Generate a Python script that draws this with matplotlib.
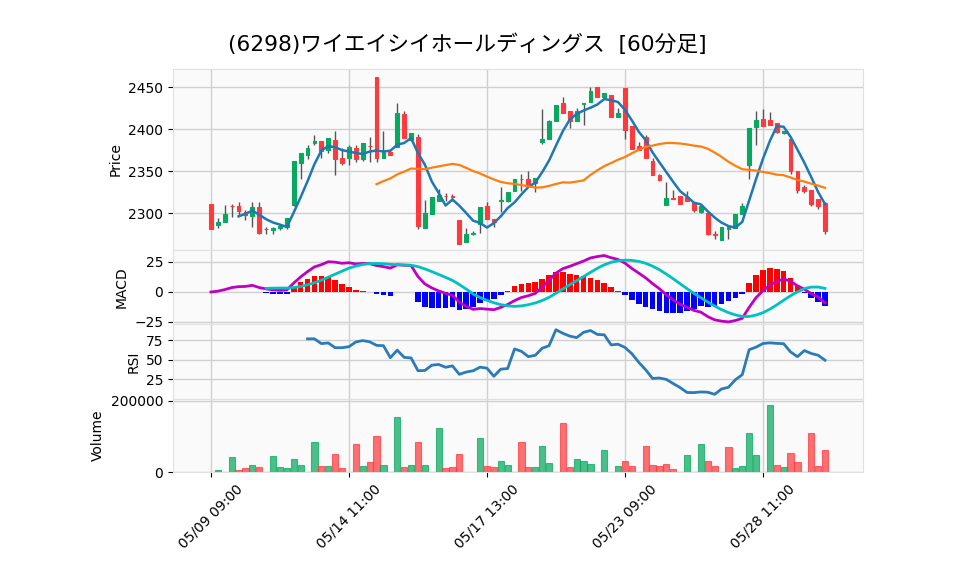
import numpy as np
import pandas as pd
import matplotlib
matplotlib.use("Agg")
import matplotlib.pyplot as plt

plt.rcParams['font.family'] = ['DejaVu Sans', 'Noto Sans CJK JP']
plt.rcParams['axes.unicode_minus'] = True

title = "(6298)ワイエイシイホールディングス  [60分足]"
tick_labels = ["05/09 09:00", "05/14 11:00", "05/17 13:00", "05/23 09:00", "05/28 11:00"]

opens = [2310.7, 2286.1, 2289.7, 2308.6, 2308.7, 2301.2, 2296.0, 2307.5, 2281.3, 2280.2,
         2281.7, 2283.0, 2309.9, 2360.0, 2369.8, 2384.0, 2386.1, 2375.4, 2387.3, 2365.9,
         2366.3, 2377.4, 2365.1, 2380.2, 2462.3, 2366.3, 2373.0, 2379.4, 2418.3, 2387.3,
         2390.9, 2281.7, 2299.2, 2313.9, 2320.8, 2320.1, 2292.1, 2265.1, 2275.0, 2287.3,
         2308.7, 2293.3, 2313.9, 2313.9, 2327.0, 2340.8, 2340.9, 2335.7, 2385.3, 2388.5,
         2410.3, 2431.0, 2421.8, 2410.3, 2429.8, 2432.5, 2450.8, 2438.9, 2440.9, 2415.1,
         2449.6, 2404.0, 2380.2, 2390.9, 2362.7, 2345.2, 2309.5, 2318.6, 2320.6, 2319.8,
         2311.9, 2300.8, 2300.0, 2275.4, 2268.3, 2281.5, 2281.7, 2298.8, 2357.5, 2403.2,
         2412.3, 2411.1, 2407.9, 2395.2, 2388.1, 2350.4, 2331.7, 2327.8, 2317.1, 2311.9]
highs = [2311.0, 2294.0, 2309.9, 2310.7, 2313.5, 2304.0, 2313.5, 2313.5, 2283.3, 2284.0,
         2287.3, 2294.0, 2362.3, 2372.0, 2381.0, 2392.9, 2386.1, 2389.3, 2398.0, 2377.4,
         2381.3, 2381.3, 2383.7, 2391.3, 2462.3, 2397.6, 2375.4, 2431.0, 2421.4, 2395.6,
         2394.4, 2315.9, 2319.5, 2329.0, 2323.8, 2323.0, 2292.1, 2281.7, 2279.0, 2307.1,
         2313.5, 2293.3, 2331.7, 2325.4, 2340.9, 2346.8, 2350.4, 2341.7, 2423.8, 2411.5,
         2429.4, 2438.1, 2421.8, 2425.0, 2431.0, 2450.0, 2450.8, 2442.9, 2440.9, 2425.0,
         2449.6, 2404.0, 2384.9, 2393.3, 2365.9, 2347.2, 2336.9, 2327.8, 2320.6, 2327.0,
         2313.5, 2309.5, 2300.0, 2278.2, 2283.3, 2284.1, 2299.2, 2311.9, 2401.2, 2421.4,
         2423.8, 2420.2, 2407.9, 2398.0, 2388.1, 2350.4, 2333.7, 2327.8, 2317.1, 2312.7]
lows = [2280.5, 2281.7, 2289.0, 2295.2, 2296.0, 2292.0, 2284.0, 2275.0, 2275.4, 2274.6,
        2280.2, 2281.0, 2308.0, 2340.5, 2365.0, 2381.0, 2365.5, 2372.0, 2345.2, 2357.1,
        2357.5, 2361.5, 2362.3, 2361.1, 2361.0, 2366.3, 2369.0, 2379.4, 2390.1, 2386.5,
        2281.0, 2281.7, 2299.2, 2313.9, 2315.0, 2315.0, 2263.1, 2265.1, 2274.0, 2276.0,
        2292.5, 2284.0, 2300.8, 2313.0, 2327.0, 2327.0, 2331.7, 2325.0, 2383.0, 2388.5,
        2410.3, 2419.8, 2401.2, 2410.3, 2405.2, 2432.5, 2438.9, 2438.9, 2415.1, 2414.3,
        2388.1, 2376.2, 2375.0, 2365.5, 2345.2, 2338.5, 2309.5, 2316.3, 2310.3, 2313.9,
        2300.8, 2300.0, 2274.2, 2269.0, 2268.3, 2269.0, 2281.7, 2298.8, 2340.5, 2381.3,
        2404.0, 2405.2, 2395.2, 2394.0, 2346.8, 2323.8, 2324.6, 2308.0, 2304.8, 2275.4]
closes = [2281.3, 2289.7, 2299.2, 2308.3, 2302.0, 2297.2, 2307.5, 2275.8, 2281.0, 2282.5,
          2284.5, 2294.0, 2362.3, 2371.8, 2377.8, 2386.5, 2374.6, 2389.3, 2365.1, 2360.3,
          2378.6, 2365.1, 2383.7, 2379.8, 2366.3, 2373.0, 2369.8, 2419.4, 2390.1, 2395.6,
          2284.1, 2300.0, 2319.5, 2321.3, 2320.6, 2319.8, 2263.1, 2275.4, 2276.0, 2307.1,
          2292.5, 2289.3, 2316.0, 2325.4, 2340.9, 2340.5, 2333.0, 2341.7, 2388.1, 2410.3,
          2429.4, 2419.8, 2410.3, 2421.8, 2431.0, 2446.0, 2438.9, 2442.9, 2415.1, 2419.8,
          2399.6, 2376.2, 2375.0, 2365.5, 2346.0, 2340.1, 2318.3, 2316.3, 2310.3, 2313.9,
          2303.2, 2308.7, 2274.6, 2273.4, 2283.3, 2282.9, 2299.2, 2308.7, 2401.2, 2411.1,
          2404.0, 2405.2, 2397.2, 2398.0, 2350.8, 2327.8, 2327.0, 2311.1, 2309.1, 2278.2]
volumes = [0, 5000, 0, 41500, 4700, 10400, 18900, 13200, 0, 44300,
           13200, 10400, 35800, 18900, 0, 84000, 16000, 16000, 50000, 10400,
           0, 78300, 16000, 27400, 101000, 18900, 0, 154700, 13200, 18900,
           84000, 18900, 0, 123600, 10400, 13200, 50000, 0, 0, 96200,
           16000, 14100, 30200, 18900, 0, 83000, 13200, 13200, 72600, 24500,
           0, 136700, 13200, 35800, 30200, 21700, 0, 61300, 0, 16000,
           32000, 16000, 0, 71700, 20700, 16000, 23600, 7500, 0, 49000,
           0, 77400, 32000, 16000, 0, 68900, 10400, 16000, 108400, 47200,
           0, 188600, 18900, 13200, 52800, 27400, 0, 108400, 16000, 61300]

UP = '#06a95e'
DOWN = '#fe3a3e'

o = np.array(opens); h = np.array(highs); l = np.array(lows); c = np.array(closes)
v = np.array(volumes, dtype=float)
n = len(c)
x = np.arange(n)
cs = pd.Series(c)
ma5 = cs.rolling(5).mean()
ma25 = cs.rolling(25).mean()
ema12 = cs.ewm(span=12, adjust=False).mean()
ema26 = cs.ewm(span=26, adjust=False).mean()
macd = ema12 - ema26
signal = macd.rolling(9).mean()
hist = macd - signal
d = cs.diff()
gain = d.clip(lower=0).rolling(14).mean()
loss = (-d.clip(upper=0)).rolling(14).mean()
rsi = 100 * gain / (gain + loss)

fig = plt.figure(figsize=(9.58, 5.75), dpi=100)
L, W = 173/958, 690/958
def pos(top, bot):
    return [L, (575-bot)/575, W, (bot-top)/575]
ax1 = fig.add_axes(pos(69, 250))
ax2 = fig.add_axes(pos(250, 324), sharex=ax1)
ax3 = fig.add_axes(pos(324, 399), sharex=ax1)
ax4 = fig.add_axes(pos(399, 472), sharex=ax1)

for ax in (ax1, ax2, ax3, ax4):
    ax.set_facecolor('#fafafa')
    ax.grid(True, color='#d0d0d0', linewidth=1.0)
    ax.set_axisbelow(True)
    for s in ax.spines.values():
        s.set_color('#e0e0e0')
    ax.tick_params(labelsize=10, length=3.5, color='black')

# candles
cols = np.where(c > o, UP, DOWN)
ax1.vlines(x, l, h, color='#555555', linewidth=1.0, zorder=2)
ax1.bar(x, np.abs(c - o), bottom=np.minimum(o, c), width=0.55, color=cols,
        edgecolor=cols, linewidth=0.8, zorder=3)
ax1.plot(x, ma5, color='#1f77b4', linewidth=1.8, zorder=4)
ax1.plot(x, ma25, color='#ff7f0e', linewidth=1.6, zorder=4)
ax1.set_ylim(2256, 2472)
ax1.set_yticks([2300, 2350, 2400, 2450])
ax1.set_ylabel('Price', fontsize=10)

# MACD
hcols = np.where(hist >= 0, '#ff0000', '#0000ff')
ax2.bar(x, hist, width=0.8, color=hcols, zorder=2)
ax2.plot(x, macd, color='#c000c0', linewidth=2.0, zorder=3)
ax2.plot(x, signal, color='#00c0c0', linewidth=2.0, zorder=3)
ax2.set_ylim(-26.7, 35)
ax2.set_yticks([-25, 0, 25])
ax2.set_ylabel('MACD', fontsize=10)

# RSI
ax3.plot(x, rsi, color='#2b7bb9', linewidth=2.0)
ax3.set_ylim(-0.5, 95.5)
ax3.set_yticks([25, 50, 75])
ax3.set_ylabel('RSI', fontsize=10)

# Volume
vcols = np.where(cs.diff().fillna(0).values >= 0, UP, DOWN)
ax4.bar(x, v, width=0.9, color=vcols, alpha=0.72, edgecolor=vcols, linewidth=0.8)
ax4.set_ylim(0, 205000)
ax4.set_yticks([0, 200000])
ax4.set_yticklabels(['0', '200000'])
ax4.set_ylabel('Volume', fontsize=10)

ax1.set_xlim(-5.5, 94.5)
ax4.set_xticks(np.arange(0, n, 20))
ax4.set_xticklabels(tick_labels, rotation=45, ha='center', fontsize=10)
for ax in (ax1, ax2, ax3):
    ax.tick_params(axis='x', labelbottom=False, length=0)

fig.suptitle(title, fontsize=15.7, x=0.488, y=0.942)
fig.savefig('out.png', dpi=100)
